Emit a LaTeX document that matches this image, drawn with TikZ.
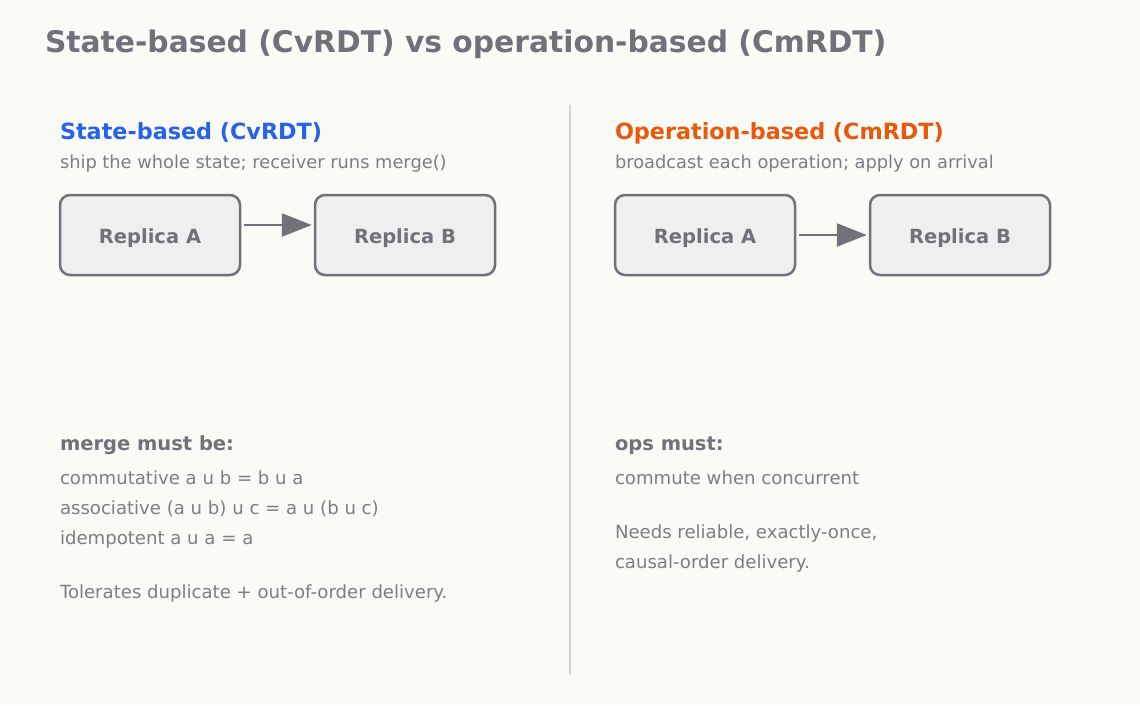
\documentclass[tikz,border=0pt]{standalone}
\usepackage{fontspec}
\setmainfont{DejaVu Sans}
\usetikzlibrary{arrows.meta,calc}
\definecolor{bg}{HTML}{FAFAF7}
\definecolor{ink}{HTML}{71717A}
\definecolor{body}{HTML}{7D7D83}
\definecolor{blueh}{HTML}{2563EB}
\definecolor{orangeh}{HTML}{EA580C}
\definecolor{boxfill}{HTML}{EFEFEF}
\definecolor{divider}{HTML}{D4D4D4}
\tikzset{
  txt/.style={anchor=base west, inner sep=0pt, outer sep=0pt},
  titletxt/.style={txt, text=ink, font=\fontsize{29.75}{36}\selectfont\bfseries},
  headtxt/.style={txt, font=\fontsize{22.3}{27}\selectfont\bfseries},
  subtxt/.style={txt, text=body, font=\fontsize{17.8}{22}\selectfont},
  labeltxt/.style={txt, text=ink, font=\fontsize{19.5}{24}\selectfont\bfseries},
  bodytxt/.style={txt, text=body, font=\fontsize{18.1}{22}\selectfont},
  replica/.style={draw=ink, fill=boxfill, line width=2.5pt, rounded corners=10pt,
    minimum width=180pt, minimum height=80pt, inner sep=0pt, text=ink,
    text height=16pt, text depth=0pt,
    font=\fontsize{19.5}{24}\selectfont\bfseries},
  flow/.style={draw=ink, line width=2.5pt, -{Triangle[length=30pt,width=23pt]}},
}
\begin{document}
\begin{tikzpicture}[x=1pt,y=-1pt]
\fill[bg] (0,0) rectangle (1140,705);
\useasboundingbox (0,0) rectangle (1140,705);
\node[titletxt] (title) at (45,52) {State-based (CvRDT) vs operation-based (CmRDT)};
% divider
\coordinate (dtop) at (570,105);
\coordinate (dbot) at (570,675);
\draw[divider, line width=2.5pt] (dtop) -- (dbot);
% left
\node[headtxt, text=blueh] (lhead) at (60,139) {State-based (CvRDT)};
\node[subtxt] (lsub) at (60,168) {ship the whole state; receiver runs merge()};
\node[replica] (la) at (150,235) {Replica A};
\node[replica] (lb) at (405,235) {Replica B};
\draw[flow] ($(la.east)+(3,-10)$) -- ($(lb.west)+(-2,-10)$);
\node[labeltxt] (lmust) at (60,450) {merge must be:};
\node[bodytxt] (l1) at (60,484) {commutative a u b = b u a};
\node[bodytxt] (l2) at (60,514) {associative (a u b) u c = a u (b u c)};
\node[bodytxt] (l3) at (60,544) {idempotent a u a = a};
\node[bodytxt] (l4) at (60,598) {Tolerates duplicate + out-of-order delivery.};
% right
\node[headtxt, text=orangeh] (rhead) at (615,139) {Operation-based (CmRDT)};
\node[subtxt] (rsub) at (615,168) {broadcast each operation; apply on arrival};
\node[replica] (ra) at (705,235) {Replica A};
\node[replica] (rb) at (960,235) {Replica B};
\draw[flow] ($(ra.east)+(3,0)$) -- ($(rb.west)+(-2,0)$);
\node[labeltxt] (rmust) at (615,450) {ops must:};
\node[bodytxt] (r1) at (615,484) {commute when concurrent};
\node[bodytxt] (r2) at (615,538) {Needs reliable, exactly-once,};
\node[bodytxt] (r3) at (615,568) {causal-order delivery.};
\end{tikzpicture}
\end{document}
